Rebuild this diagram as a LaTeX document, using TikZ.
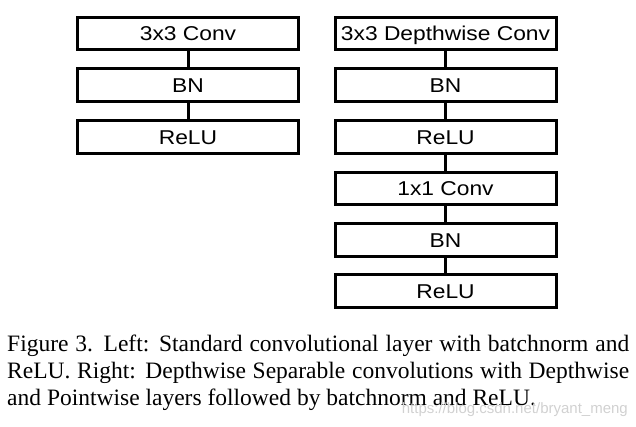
\documentclass[tikz,border=0pt]{standalone}
\usepackage{fontspec}
\setmainfont{Liberation Serif}
\newfontfamily\boxfont{Liberation Sans}
\begin{document}
\begin{tikzpicture}[x=1pt,y=1pt,
  layerbox/.style={draw=black,line width=3pt,minimum width=221pt,minimum height=32.5pt,inner sep=0pt,
    text height=14.5pt,text depth=0pt,font=\boxfont\fontsize{20}{24}\selectfont},
  link/.style={draw=black,line width=3pt},
  capline/.style={anchor=base west,inner sep=0pt,font=\fontsize{23.5}{27}\selectfont}]
\useasboundingbox (0,0) rectangle (636,-426);
% left column
\node[layerbox] (l1) at (188,-33.5) {\scalebox{1.14}[1]{3x3 Conv}};
\node[layerbox] (l2) at (188,-85) {\scalebox{1.14}[1]{BN}};
\node[layerbox] (l3) at (188,-137) {\scalebox{1.14}[1]{ReLU}};
\draw[link] (l1) -- (l2);
\draw[link] (l2) -- (l3);
% right column
\node[layerbox] (r1) at (445.5,-33.5) {\scalebox{1.14}[1]{3x3 Depthwise Conv}};
\node[layerbox] (r2) at (445.5,-85) {\scalebox{1.14}[1]{BN}};
\node[layerbox] (r3) at (445.5,-137) {\scalebox{1.14}[1]{ReLU}};
\node[layerbox] (r4) at (445.5,-188.5) {\scalebox{1.14}[1]{1x1 Conv}};
\node[layerbox] (r5) at (445.5,-240) {\scalebox{1.14}[1]{BN}};
\node[layerbox] (r6) at (445.5,-291) {\scalebox{1.14}[1]{ReLU}};
\draw[link] (r1) -- (r2);
\draw[link] (r2) -- (r3);
\draw[link] (r3) -- (r4);
\draw[link] (r4) -- (r5);
\draw[link] (r5) -- (r6);
% caption
\node[capline] (c1) at (7,-351) {\makebox[622pt][s]{Figure 3. Left:  Standard convolutional layer with batchnorm and}};
\node[capline] (c2) at (7,-378) {\makebox[622pt][s]{ReLU. Right: Depthwise Separable convolutions with Depthwise}};
\node[capline] (c3) at (7,-405.5) {and Pointwise layers followed by batchnorm and ReLU.};
% watermark
\node[anchor=base east,inner sep=0pt,text=black!18,font=\boxfont\fontsize{15}{18}\selectfont] (wm) at (628,-413) {https://blog.csdn.net/bryant\_meng};
\end{tikzpicture}
\end{document}
